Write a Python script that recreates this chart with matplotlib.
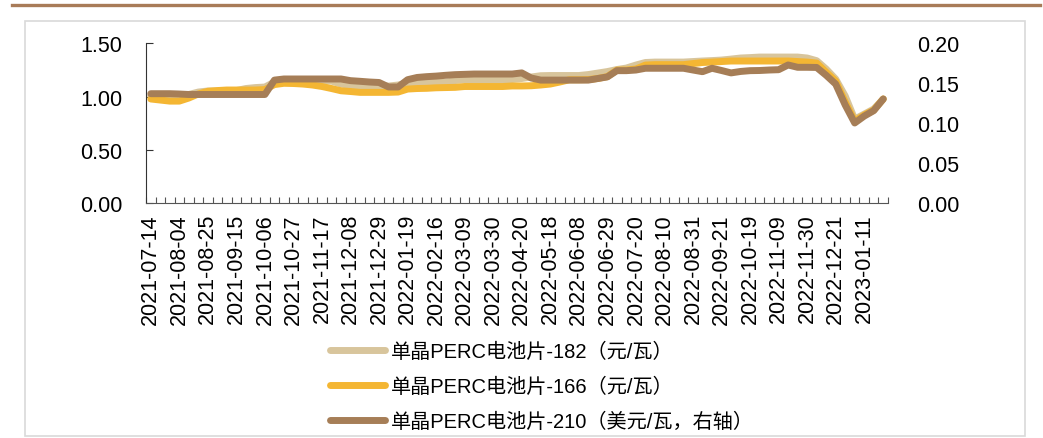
import matplotlib
matplotlib.use("Agg")
import matplotlib.pyplot as plt
import numpy as np
from matplotlib.lines import Line2D
from matplotlib.patches import Rectangle

# ---------------- data ----------------
tick_labels = ["2021-07-14", "2021-08-04", "2021-08-25", "2021-09-15", "2021-10-06",
               "2021-10-27", "2021-11-17", "2021-12-08", "2021-12-29", "2022-01-19",
               "2022-02-16", "2022-03-09", "2022-03-30", "2022-04-20", "2022-05-18",
               "2022-06-08", "2022-06-29", "2022-07-20", "2022-08-10", "2022-08-31",
               "2022-09-21", "2022-10-19", "2022-11-09", "2022-11-30", "2022-12-21",
               "2023-01-11"]

perc_182 = [1.006, 1.006, 1.006, 1.006, 1.020, 1.043, 1.053, 1.053, 1.053, 1.057,
            1.076, 1.085, 1.090, 1.137, 1.146, 1.146, 1.146, 1.146, 1.146, 1.146,
            1.118, 1.104, 1.099, 1.099, 1.099, 1.099, 1.109, 1.127, 1.134, 1.134,
            1.134, 1.134, 1.151, 1.158, 1.158, 1.158, 1.158, 1.158, 1.160, 1.170,
            1.184, 1.196, 1.198, 1.198, 1.198, 1.198, 1.207, 1.221, 1.235, 1.254,
            1.268, 1.296, 1.320, 1.324, 1.324, 1.324, 1.324, 1.329, 1.334, 1.338,
            1.343, 1.352, 1.362, 1.366, 1.371, 1.371, 1.371, 1.371, 1.371, 1.362,
            1.337, 1.259, 1.165, 1.006, 0.789, 0.836, 0.884, 0.977]

perc_166 = [0.978, 0.968, 0.958, 0.958, 0.987, 1.025, 1.050, 1.057, 1.062, 1.062,
            1.062, 1.062, 1.066, 1.113, 1.125, 1.123, 1.118, 1.109, 1.095, 1.076,
            1.055, 1.048, 1.040, 1.040, 1.040, 1.040, 1.043, 1.071, 1.076, 1.078,
            1.083, 1.085, 1.087, 1.095, 1.095, 1.095, 1.095, 1.095, 1.100, 1.100,
            1.102, 1.109, 1.118, 1.137, 1.158, 1.158, 1.160, 1.170, 1.188, 1.249,
            1.249, 1.259, 1.296, 1.300, 1.300, 1.300, 1.300, 1.310, 1.320, 1.324,
            1.329, 1.334, 1.334, 1.334, 1.334, 1.334, 1.334, 1.334, 1.329, 1.324,
            1.315, 1.230, 1.146, 0.950, 0.770, 0.828, 0.874, 0.978]

perc_210 = [0.1370, 0.1370, 0.1370, 0.1366, 0.1360, 0.1360, 0.1360, 0.1360, 0.1360, 0.1360,
            0.1360, 0.1360, 0.1360, 0.1540, 0.1554, 0.1554, 0.1554, 0.1554, 0.1554, 0.1554,
            0.1554, 0.1533, 0.1525, 0.1516, 0.1510, 0.1454, 0.1454, 0.1545, 0.1573, 0.1583,
            0.1590, 0.1600, 0.1608, 0.1612, 0.1616, 0.1616, 0.1616, 0.1616, 0.1616, 0.1630,
            0.1566, 0.1540, 0.1540, 0.1540, 0.1540, 0.1540, 0.1540, 0.1560, 0.1580, 0.1658,
            0.1658, 0.1666, 0.1688, 0.1688, 0.1688, 0.1688, 0.1688, 0.1666, 0.1645, 0.1688,
            0.1660, 0.1630, 0.1648, 0.1658, 0.1660, 0.1666, 0.1670, 0.1729, 0.1700, 0.1700,
            0.1698, 0.1600, 0.1490, 0.1229, 0.1004, 0.1090, 0.1158, 0.1304]

labels = ["单晶PERC电池片-182（元/瓦）",
          "单晶PERC电池片-166（元/瓦）",
          "单晶PERC电池片-210（美元/瓦，右轴）"]
colors = ["#D8C59C", "#F4B633", "#A67E57"]

# ---------------- figure ----------------
W, H = 1043, 439
fig = plt.figure(figsize=(W / 100, H / 100), dpi=100)
plt.rcParams['font.family'] = ['Liberation Sans', 'Noto Sans CJK SC', 'DejaVu Sans']

ax_l, ax_r_px, ax_t, ax_b = 146, 888, 44.3, 204.3
ax = fig.add_axes([ax_l / W, 1 - ax_b / H, (ax_r_px - ax_l) / W, (ax_b - ax_t) / H])
ax2 = ax.twinx()

n = len(perc_182)
x = np.arange(n)
lw = 5
l1, = ax.plot(x, perc_182, color=colors[0], lw=lw, solid_joinstyle='round', solid_capstyle='round', zorder=2)
l2, = ax.plot(x, perc_166, color=colors[1], lw=lw, solid_joinstyle='round', solid_capstyle='round', zorder=3)
l3, = ax2.plot(x, perc_210, color=colors[2], lw=lw, solid_joinstyle='round', solid_capstyle='round', zorder=4)

ax.set_xlim(-0.5, n - 0.5)
ax.set_ylim(0, 1.5)
ax2.set_ylim(0, 0.2)
ax.set_yticks([0, 0.5, 1.0, 1.5])
ax.set_yticklabels([f"{v:.2f}" for v in [0, 0.5, 1.0, 1.5]])
ax2.set_yticks([0, 0.05, 0.10, 0.15, 0.20])
ax2.set_yticklabels([f"{v:.2f}" for v in [0, 0.05, 0.10, 0.15, 0.20]])

# x ticks: labels every 3 categories, minor ticks at category boundaries
ax.set_xticks(np.arange(0, 3 * len(tick_labels), 3))
ax.set_xticklabels(tick_labels, rotation=90, fontsize=15.5)
ax.set_xticks(np.arange(-0.5, n, 1.0), minor=True)
ax.tick_params(axis='x', which='major', length=0, pad=7)
ax.tick_params(axis='x', which='minor', direction='in', length=4.5, width=0.8, color='#555555')
ax.tick_params(axis='y', direction='in', length=5, width=0.8, labelsize=15.5, pad=17, color='#333333')
ax2.tick_params(axis='y', length=0, labelsize=15.5, pad=21)

for s in ['top', 'right']:
    ax.spines[s].set_visible(False)
for s in ['top', 'right', 'left', 'bottom']:
    ax2.spines[s].set_visible(False)
ax.spines['left'].set_color('#333333')
ax.spines['bottom'].set_color('#555555')
ax.spines['left'].set_linewidth(0.8)
ax.spines['bottom'].set_linewidth(0.8)
ax.set_facecolor('none')

# legend
leg = fig.legend([l1, l2, l3], labels, loc='upper left',
                 bbox_to_anchor=(330 / W, 1 - 343 / H), frameon=False,
                 fontsize=14.5, handlelength=2.75, handletextpad=0.25,
                 labelspacing=0.78, borderpad=0, borderaxespad=0)

# decorative frame
fig.add_artist(Rectangle((25 / W, 1 - 437 / H), 1000 / W, (437 - 22) / H,
                         transform=fig.transFigure, fill=False,
                         edgecolor='#D9D9D9', lw=1.2))
fig.add_artist(Line2D([12 / W, 1040 / W], [1 - 5.5 / H, 1 - 5.5 / H],
                      transform=fig.transFigure, color='#A87B58', lw=2.4))

fig.savefig("out.png", dpi=100)
